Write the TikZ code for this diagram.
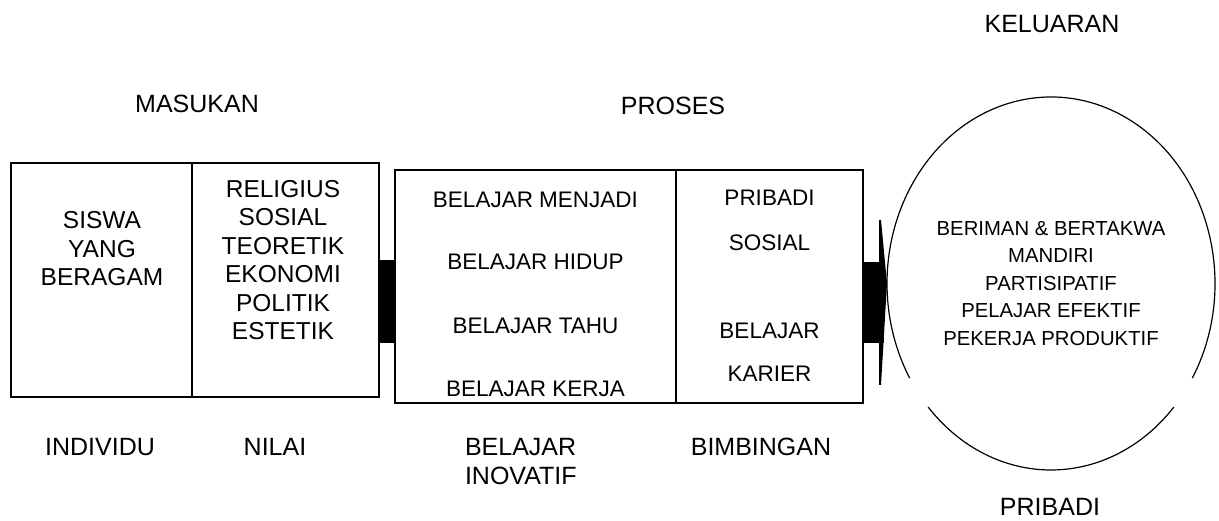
\documentclass[tikz,border=0pt]{standalone}
\usepackage{fontspec}
\setmainfont{Liberation Sans}
\usepackage{tikz}
\usetikzlibrary{shapes.geometric}

\begin{document}
\begin{tikzpicture}[x=1pt,y=1pt]
\tikzstyle{every node}=[inner sep=0pt,outer sep=0pt]
\tikzstyle{kotak}=[draw,line width=1.4pt,minimum height=234]
\tikzstyle{tulisan}=[font=\fontsize{24.5}{28.5}\selectfont,align=center]
\tikzstyle{isi}=[font=\fontsize{22.5}{27}\selectfont]
\tikzstyle{hasil}=[font=\fontsize{20.3}{27.5}\selectfont,align=center]
\tikzstyle{judul}=[font=\fontsize{25}{29}\selectfont,align=center]
\useasboundingbox (0,0) rectangle (1219,521);
% masukan
\node[kotak,minimum width=181] (individu) at (101.5,241) {};
\node[kotak,minimum width=187] (nilai) at (285.5,241) {};
\node[tulisan] (siswa) at (102,272) {SISWA\\YANG\\BERAGAM};
\node[tulisan] (ragam) at (283,261) {RELIGIUS\\SOSIAL\\TEORETIK\\EKONOMI\\POLITIK\\ESTETIK};
% proses
\node[kotak,minimum width=281,minimum height=233] (inovatif) at (535.5,234.5) {};
\node[kotak,minimum width=187,minimum height=233] (bimbingan) at (769.5,234.5) {};
\node[isi] (menjadi) at (535.5,321) {BELAJAR MENJADI};
\node[isi] (hidup) at (535.5,259) {BELAJAR HIDUP};
\node[isi] (tahu) at (535.5,195) {BELAJAR TAHU};
\node[isi] (kerja) at (535.5,132) {BELAJAR KERJA};
\node[isi] (pribadi) at (769.5,323) {PRIBADI};
\node[isi] (sosial) at (769.5,278.5) {SOSIAL};
\node[isi] (belajar) at (769.5,190) {BELAJAR};
\node[isi] (karier) at (769.5,147) {KARIER};
% keluaran
\node[ellipse,minimum width=328,minimum height=373,hasil] (keluaran) at (1051,237.5)
{BERIMAN \& BERTAKWA\\MANDIRI\\PARTISIPATIF\\PELAJAR EFEKTIF\\PEKERJA PRODUKTIF};
\draw[line width=1.2pt] ([shift={(-30.5:164 and 186.5)}]keluaran.center)
arc[start angle=-30.5,end angle=210.5,x radius=164,y radius=186.5];
\draw[line width=1.2pt] ([shift={(221.5:164 and 186.5)}]keluaran.center)
arc[start angle=221.5,end angle=318.5,x radius=164,y radius=186.5];
% penghubung
\fill ([yshift=20pt]nilai.east) rectangle ([yshift=-56.5pt]inovatif.west);
\fill ([yshift=24.5pt]bimbingan.east) rectangle ([xshift=-167pt,yshift=-60pt]keluaran.center);
\fill ([xshift=-172pt,yshift=63.5pt]keluaran.center) -- ([xshift=-170pt,yshift=63.5pt]keluaran.center)
-- (keluaran.west) -- ([xshift=-170pt,yshift=-101.5pt]keluaran.center)
-- ([xshift=-172pt,yshift=-101.5pt]keluaran.center) -- cycle;
% judul
\node[judul] (masukan) at (197,417) {MASUKAN};
\node[judul] (proses) at (673,415) {PROSES};
\node[judul] (luaran) at (1052,497) {KELUARAN};
\node[judul] (indiv) at (100,74) {INDIVIDU};
\node[judul] (nilaiL) at (275,74) {NILAI};
\node[judul,align=left,anchor=west] (inov) at (465,59.5) {BELAJAR\\INOVATIF};
\node[judul] (bimb) at (761,74) {BIMBINGAN};
\node[judul] (prib) at (1050,14) {PRIBADI};
\end{tikzpicture}
\end{document}
